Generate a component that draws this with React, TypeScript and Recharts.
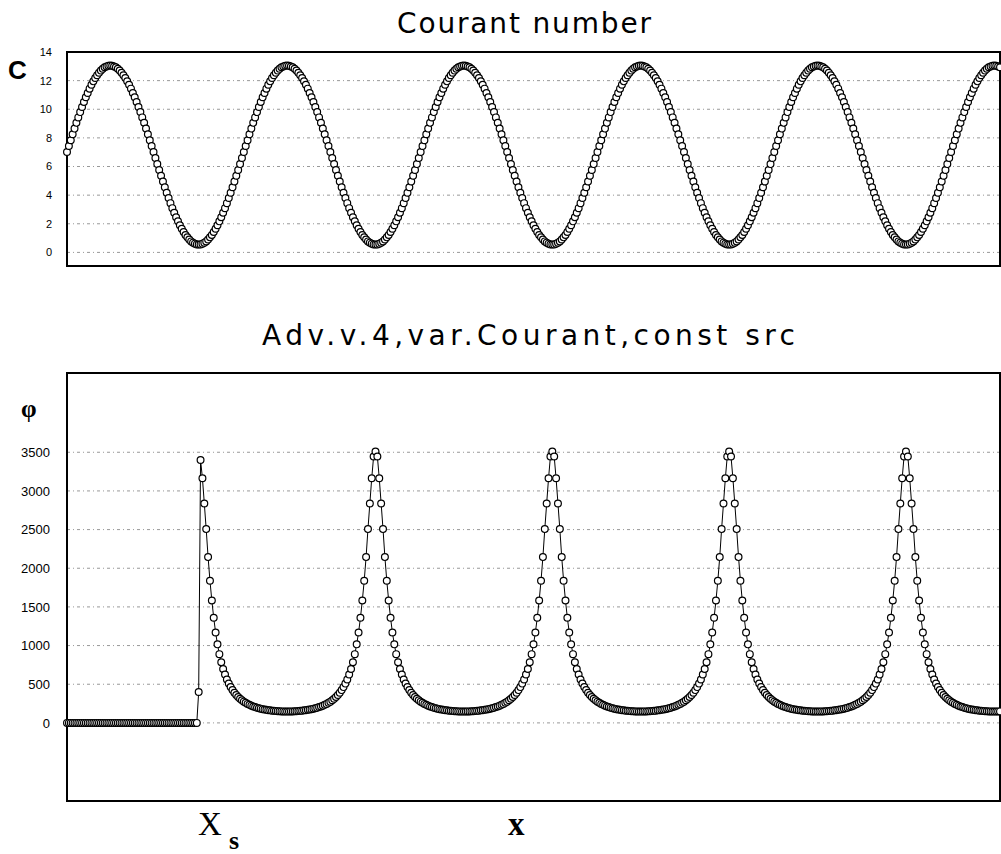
import React from 'react';
import { LineChart, Line, XAxis, YAxis, CartesianGrid, ReferenceArea } from 'recharts';

// Courant number read along the grid (one value per grid node, left to right)
const courant = [
  7.01,7.43,7.84,8.25,8.65,9.05,
  9.43,9.80,10.16,10.51,10.84,11.14,11.44,11.71,11.95,12.18,
  12.38,12.55,12.70,12.83,12.93,12.99,13.04,13.05,13.04,12.99,
  12.93,12.83,12.70,12.55,12.38,12.18,11.95,11.71,11.44,11.14,
  10.84,10.51,10.16,9.80,9.43,9.05,8.65,8.25,7.84,7.43,
  7.01,6.59,6.17,5.76,5.35,4.95,4.55,4.17,3.80,3.44,
  3.09,2.77,2.46,2.17,1.90,1.65,1.42,1.22,1.05,0.90,
  0.77,0.68,0.61,0.56,
  0.55,0.56,0.61,0.68,0.77,0.90,1.05,1.22,1.42,1.65,
  1.90,2.17,2.46,2.77,3.09,3.44,3.80,4.17,4.55,4.95,
  5.35,5.76,6.17,6.59,7.01,7.43,7.84,8.25,8.65,9.05,
  9.43,9.80,10.16,10.51,10.84,11.14,11.44,11.71,11.95,12.18,
  12.38,12.55,12.70,12.83,12.93,12.99,13.04,13.05,13.04,12.99,
  12.93,12.83,12.70,12.55,12.38,12.18,11.95,11.71,11.44,11.14,
  10.84,10.51,10.16,9.80,9.43,9.05,8.65,8.25,7.84,7.43,
  7.01,6.59,6.17,5.76,5.35,4.95,4.55,4.17,3.80,3.44,
  3.09,2.77,2.46,2.17,1.90,1.65,1.42,1.22,1.05,0.90,
  0.77,0.68,0.61,0.56,
  0.55,0.56,0.61,0.68,0.77,0.90,1.05,1.22,1.42,1.65,
  1.90,2.17,2.46,2.77,3.09,3.44,3.80,4.17,4.55,4.95,
  5.35,5.76,6.17,6.59,7.01,7.43,7.84,8.25,8.65,9.05,
  9.43,9.80,10.16,10.51,10.84,11.14,11.44,11.71,11.95,12.18,
  12.38,12.55,12.70,12.83,12.93,12.99,13.04,13.05,13.04,12.99,
  12.93,12.83,12.70,12.55,12.38,12.18,11.95,11.71,11.44,11.14,
  10.84,10.51,10.16,9.80,9.43,9.05,8.65,8.25,7.84,7.43,
  7.01,6.59,6.17,5.76,5.35,4.95,4.55,4.17,3.80,3.44,
  3.09,2.77,2.46,2.17,1.90,1.65,1.42,1.22,1.05,0.90,
  0.77,0.68,0.61,0.56,
  0.55,0.56,0.61,0.68,0.77,0.90,1.05,1.22,1.42,1.65,
  1.90,2.17,2.46,2.77,3.09,3.44,3.80,4.17,4.55,4.95,
  5.35,5.76,6.17,6.59,7.01,7.43,7.84,8.25,8.65,9.05,
  9.43,9.80,10.16,10.51,10.84,11.14,11.44,11.71,11.95,12.18,
  12.38,12.55,12.70,12.83,12.93,12.99,13.04,13.05,13.04,12.99,
  12.93,12.83,12.70,12.55,12.38,12.18,11.95,11.71,11.44,11.14,
  10.84,10.51,10.16,9.80,9.43,9.05,8.65,8.25,7.84,7.43,
  7.01,6.59,6.17,5.76,5.35,4.95,4.55,4.17,3.80,3.44,
  3.09,2.77,2.46,2.17,1.90,1.65,1.42,1.22,1.05,0.90,
  0.77,0.68,0.61,0.56,
  0.55,0.56,0.61,0.68,0.77,0.90,1.05,1.22,1.42,1.65,
  1.90,2.17,2.46,2.77,3.09,3.44,3.80,4.17,4.55,4.95,
  5.35,5.76,6.17,6.59,7.01,7.43,7.84,8.25,8.65,9.05,
  9.43,9.80,10.16,10.51,10.84,11.14,11.44,11.71,11.95,12.18,
  12.38,12.55,12.70,12.83,12.93,12.99,13.04,13.05,13.04,12.99,
  12.93,12.83,12.70,12.55,12.38,12.18,11.95,11.71,11.44,11.14,
  10.84,10.51,10.16,9.80,9.43,9.05,8.65,8.25,7.84,7.43,
  7.01,6.59,6.17,5.76,5.35,4.95,4.55,4.17,3.80,3.44,
  3.09,2.77,2.46,2.17,1.90,1.65,1.42,1.22,1.05,0.90,
  0.77,0.68,0.61,0.56,
  0.55,0.56,0.61,0.68,0.77,0.90,1.05,1.22,1.42,1.65,
  1.90,2.17,2.46,2.77,3.09,3.44,3.80,4.17,4.55,4.95,
  5.35,5.76,6.17,6.59,7.01,7.43,7.84,8.25,8.65,9.05,
  9.43,9.80,10.16,10.51,10.84,11.14,11.44,11.71,11.95,12.18,
  12.38,12.55,12.70,12.83,12.93,12.99,13.04,13.05,13.04,12.99,
  12.93,
];

// phi (advected quantity, constant source at Xs) on the same grid nodes
const phi = [
  0,0,0,0,0,0,0,0,0,0,
  0,0,0,0,0,0,0,0,0,0,
  0,0,0,0,0,0,0,0,0,0,
  0,0,0,0,0,0,0,0,0,0,
  0,0,0,0,0,0,0,0,0,0,
  0,0,0,0,0,0,0,0,0,0,
  0,0,0,0,0,0,0,0,0,0,
  400,3400,
  3164,2838,2506,2144,1838,1582,1359,1170,
  1016,889,785,697,625,561,508,463,424,390,
  361,335,313,293,275,260,246,234,223,213,
  205,197,190,184,178,173,169,165,162,158,
  156,154,152,150,149,149,148,148,148,149,
  149,150,152,154,156,158,162,165,169,173,
  178,184,190,197,205,213,223,234,246,260,
  275,293,313,335,361,390,424,463,508,561,
  625,697,785,889,1016,1170,1359,1582,1838,2144,
  2506,2838,3164,3446,
  3509,3446,3164,2838,2506,2144,1838,1582,1359,1170,
  1016,889,785,697,625,561,508,463,424,390,
  361,335,313,293,275,260,246,234,223,213,
  205,197,190,184,178,173,169,165,162,158,
  156,154,152,150,149,149,148,148,148,149,
  149,150,152,154,156,158,162,165,169,173,
  178,184,190,197,205,213,223,234,246,260,
  275,293,313,335,361,390,424,463,508,561,
  625,697,785,889,1016,1170,1359,1582,1838,2144,
  2506,2838,3164,3446,
  3509,3446,3164,2838,2506,2144,1838,1582,1359,1170,
  1016,889,785,697,625,561,508,463,424,390,
  361,335,313,293,275,260,246,234,223,213,
  205,197,190,184,178,173,169,165,162,158,
  156,154,152,150,149,149,148,148,148,149,
  149,150,152,154,156,158,162,165,169,173,
  178,184,190,197,205,213,223,234,246,260,
  275,293,313,335,361,390,424,463,508,561,
  625,697,785,889,1016,1170,1359,1582,1838,2144,
  2506,2838,3164,3446,
  3509,3446,3164,2838,2506,2144,1838,1582,1359,1170,
  1016,889,785,697,625,561,508,463,424,390,
  361,335,313,293,275,260,246,234,223,213,
  205,197,190,184,178,173,169,165,162,158,
  156,154,152,150,149,149,148,148,148,149,
  149,150,152,154,156,158,162,165,169,173,
  178,184,190,197,205,213,223,234,246,260,
  275,293,313,335,361,390,424,463,508,561,
  625,697,785,889,1016,1170,1359,1582,1838,2144,
  2506,2838,3164,3446,
  3509,3446,3164,2838,2506,2144,1838,1582,1359,1170,
  1016,889,785,697,625,561,508,463,424,390,
  361,335,313,293,275,260,246,234,223,213,
  205,197,190,184,178,173,169,165,162,158,
  156,154,152,150,149,149,148,148,148,149,
  149,
];

const courantTicks = [0, 2, 4, 6, 8, 10, 12, 14];
const phiTicks = [0, 500, 1000, 1500, 2000, 2500, 3000, 3500];
const courantDomain: [number, number] = [-0.95, 14];
const phiDomain: [number, number] = [-1010, 4525];
const lastIndex = courant.length - 1;
const xDomain: [number, number] = [0, lastIndex];

const titleTop = 'Courant number';
const titleBottom = 'Adv.v.4,var.Courant,const src';

const data = courant.map((c, i) => ({ i, c, phi: phi[i] }));

const dotStyle = { r: 3.4, fill: '#fff', stroke: '#000', strokeWidth: 1.2 };
const gridDash = '3 3 1 3';
const tickFamily = '"Liberation Sans", Arial, sans-serif';

export default function App() {
  return (
    <div style={{ position: 'absolute', left: 0, top: 0, width: 1001, height: 854, background: '#fff', overflow: 'hidden' }}>
      <div style={{ position: 'absolute', left: 0, top: 0 }}>
        <LineChart width={1001} height={280} data={data} margin={{ top: 52, right: 1, bottom: 14, left: 0 }}>
          <CartesianGrid vertical={false} stroke="#999" strokeDasharray={gridDash} />
          <XAxis type="number" dataKey="i" domain={xDomain} height={0} tick={false} tickLine={false} axisLine={{ stroke: '#000', strokeWidth: 3 }} />
          <YAxis
            type="number"
            domain={courantDomain}
            ticks={courantTicks}
            interval={0}
            width={67}
            axisLine={false}
            tickLine={false}
            tickSize={0}
            tickMargin={15}
            tick={{ fontSize: 11, fontFamily: tickFamily, fill: '#000' }}
          />
          <ReferenceArea x1={0} x2={lastIndex} y1={courantDomain[0]} y2={courantDomain[1]} fill="#fff" fillOpacity={0} stroke="#000" strokeWidth={2} />
          <Line
            type="linear"
            dataKey="c"
            stroke="#000"
            strokeWidth={1}
            dot={dotStyle}
            activeDot={false}
            isAnimationActive={false}
          />
        </LineChart>
      </div>
      <div style={{ position: 'absolute', left: 0, top: 320 }}>
        <LineChart width={1001} height={500} data={data} margin={{ top: 53, right: 1, bottom: 19, left: 0 }}>
          <CartesianGrid vertical={false} stroke="#999" strokeDasharray={gridDash} />
          <XAxis type="number" dataKey="i" domain={xDomain} hide />
          <YAxis
            type="number"
            domain={phiDomain}
            ticks={phiTicks}
            interval={0}
            width={67}
            axisLine={false}
            tickLine={false}
            tickSize={0}
            tickMargin={17}
            tick={{ fontSize: 13, fontFamily: tickFamily, fill: '#000' }}
          />
          <ReferenceArea x1={0} x2={lastIndex} y1={phiDomain[0]} y2={phiDomain[1]} fill="#fff" fillOpacity={0} stroke="#000" strokeWidth={2} />
          <Line
            type="linear"
            dataKey="phi"
            stroke="#000"
            strokeWidth={1}
            dot={dotStyle}
            activeDot={false}
            isAnimationActive={false}
          />
        </LineChart>
      </div>
      <svg width={1001} height={854} style={{ position: 'absolute', left: 0, top: 0, pointerEvents: 'none' }}>
        <text x={397} y={33} fontFamily='"DejaVu Sans", sans-serif' fontSize={28} fill="#000" textLength={254} lengthAdjust="spacing">{titleTop}</text>
        <text x={262} y={345} fontFamily='"DejaVu Sans", sans-serif' fontSize={28} fill="#000" textLength={533} lengthAdjust="spacing">{titleBottom}</text>
        <text x={8} y={79} fontFamily='"Liberation Sans", Arial, sans-serif' fontWeight="bold" fontSize={26} fill="#000">C</text>
        <text x={21} y={417} fontFamily='"Liberation Serif", serif' fontWeight="bold" fontSize={25} fill="#000">φ</text>
        <text x={198} y={835} fontFamily='"Liberation Serif", serif' fontSize={33} fill="#000">X</text>
        <text x={229} y={849} fontFamily='"Liberation Serif", serif' fontWeight="bold" fontSize={26} fill="#000">s</text>
        <text x={508} y={835} fontFamily='"Liberation Serif", serif' fontWeight="bold" fontSize={33} fill="#000">x</text>
      </svg>
    </div>
  );
}
